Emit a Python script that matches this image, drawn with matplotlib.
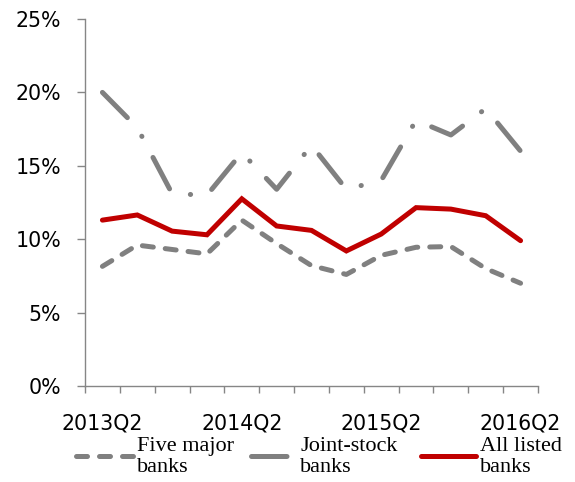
import matplotlib
matplotlib.use("Agg")
import matplotlib.pyplot as plt
from matplotlib.ticker import FixedLocator, FuncFormatter

quarters = ["2013Q2", "2013Q3", "2013Q4", "2014Q1", "2014Q2", "2014Q3", "2014Q4",
            "2015Q1", "2015Q2", "2015Q3", "2015Q4", "2016Q1", "2016Q2"]
five_major = [8.15, 9.6, 9.3, 9.0, 11.3, 9.7, 8.2, 7.6, 8.9, 9.45, 9.5, 8.0, 7.0]
joint_stock = [20.0, 17.6, 13.1, 13.0, 15.9, 13.4, 16.4, 13.4, 14.0, 18.1, 17.1, 18.9, 16.0]
all_listed = [11.3, 11.65, 10.55, 10.3, 12.75, 10.9, 10.6, 9.2, 10.35, 12.15, 12.05, 11.6, 9.9]
series_labels = ["Five major\nbanks", "Joint-stock\nbanks", "All listed\nbanks"]
label_every = 4

GRAY = "#808080"
RED = "#C00000"
AXC = "#868686"

W, H = 575, 482
fig = plt.figure(figsize=(W / 100, H / 100), dpi=100)
ax = fig.add_axes([85 / W, 96 / H, 453 / W, 367 / H])

x = list(range(len(quarters)))
lw = 3.6
l1, = ax.plot(x, five_major, color=GRAY, lw=lw, linestyle=(0, (2.2, 2.4)),
              dash_capstyle="round", solid_capstyle="round", label=series_labels[0])
l2, = ax.plot(x, joint_stock, color=GRAY, lw=lw, linestyle=(0, (7.1, 4.75, 0.05, 4.75)),
              dash_capstyle="round", solid_capstyle="round", label=series_labels[1])
l3, = ax.plot(x, all_listed, color=RED, lw=lw, solid_capstyle="round",
              solid_joinstyle="miter", label=series_labels[2])

ax.set_xlim(-0.5, len(quarters) - 0.5)
ax.set_ylim(0, 25)

for s in ["top", "right"]:
    ax.spines[s].set_visible(False)
for s in ["left", "bottom"]:
    ax.spines[s].set_color(AXC)
    ax.spines[s].set_linewidth(1.0)

ax.set_yticks([0, 5, 10, 15, 20, 25])
ax.yaxis.set_major_formatter(FuncFormatter(lambda v, p: f"{int(v)}%"))
ax.tick_params(axis="y", direction="out", length=5.8, width=1.0, color=AXC,
               pad=11.5, labelsize=14.8, labelcolor="black")

ax.set_xticks(x[::label_every])
ax.set_xticklabels(quarters[::label_every])
ax.xaxis.set_minor_locator(FixedLocator([i - 0.5 for i in range(len(quarters) + 1)]))
ax.tick_params(axis="x", which="major", length=0, pad=19.5, labelsize=14.8, labelcolor="black")
ax.tick_params(axis="x", which="minor", direction="out", length=5, width=1.0, color=AXC)

# legend entries laid out individually (Excel-style spacing)
leg_x = [75.5, 250.5, 420.5]
leg_hl = [2.57, 1.67, 2.48]
leg_pad = [0.2, 0.56, 0.2]
handles = [l1, l2, l3]
for h, lab, lx, hl, pd in zip(handles, series_labels, leg_x, leg_hl, leg_pad):
    lg = fig.legend(handles=[h], labels=[lab], loc="upper left",
                    bbox_to_anchor=(lx / W, 1 - 437 / H),
                    frameon=False, handlelength=hl, handletextpad=pd,
                    borderpad=0, borderaxespad=0,
                    prop={"family": "Liberation Serif", "size": 16})
    for t in lg.get_texts():
        t.set_linespacing(1.12)

fig.savefig("out.png", dpi=100)
